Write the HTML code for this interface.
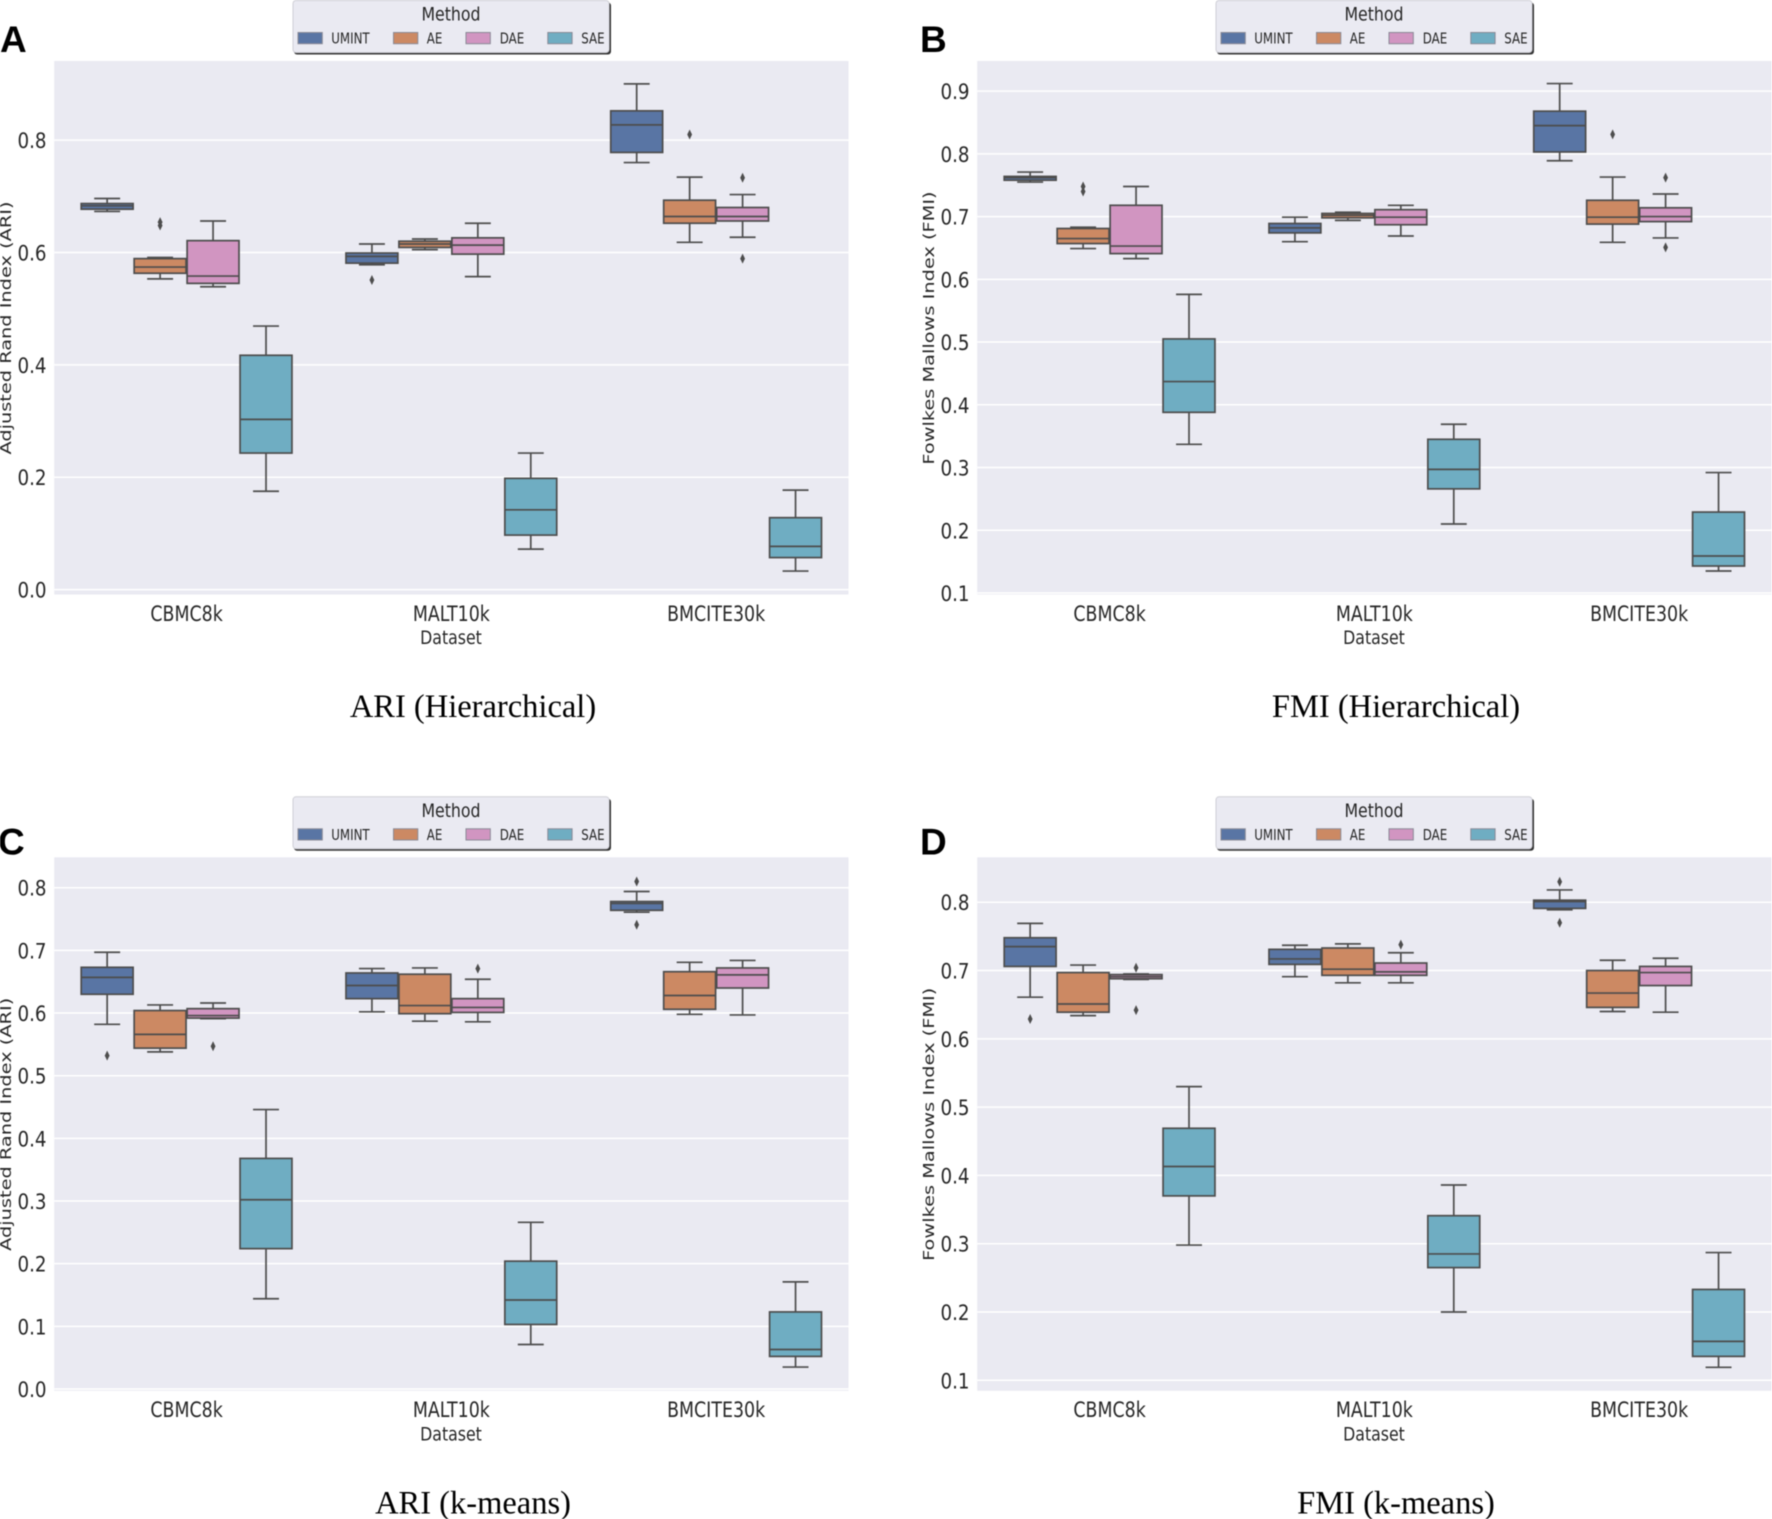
<!DOCTYPE html>
<html lang="en">
<head>
<meta charset="utf-8">
<title>Clustering boxplots</title>
<style>
html,body{margin:0;padding:0;background:#fff;width:1772px;height:1519px;overflow:hidden}
svg{display:block;filter:blur(.45px)}
.dj{font-family:"DejaVu Sans","Liberation Sans",sans-serif;fill:#262626}
.cap{font-family:"Liberation Serif",serif;font-size:32.5px;fill:#000;text-anchor:middle}
.let{font-family:"Liberation Sans",sans-serif;font-weight:bold;font-size:37px;fill:#000}
</style>
</head>
<body>
<svg id="fig" xmlns="http://www.w3.org/2000/svg" width="1772" height="1519" viewBox="0 0 1772 1519">
<defs>
<g id="legend-art">
<rect x="294" y="2.5" width="317" height="52" rx="3" fill="#333"/>
<rect x="293" y="0.5" width="316" height="52" rx="3" fill="#eaeaf2" stroke="#cfcfd6" stroke-width="1"/>
<rect x="298" y="32.5" width="24.3" height="11.2" fill="#5975a4" stroke="#8a8a96"/>
<rect x="393.5" y="32.5" width="24.3" height="11.2" fill="#cc8963" stroke="#8a8a96"/>
<rect x="466" y="32.5" width="24.3" height="11.2" fill="#d195c1" stroke="#8a8a96"/>
<rect x="547.8" y="32.5" width="24.3" height="11.2" fill="#6fadc2" stroke="#8a8a96"/>
</g>
</defs>

<g id="panel-a" transform="translate(0,0)">
<g class="plot"></g>
<text class="let" x="0" y="52">A</text>
<text class="dj" font-size="15" text-anchor="middle" transform="translate(11,328) rotate(-90) scale(1.29,1)">Adjusted Rand Index (ARI)</text>
<text class="dj" font-size="19" text-anchor="middle" transform="translate(451,644) scale(.83,1)">Dataset</text>
<text class="cap" x="473" y="717">ARI (Hierarchical)</text>
<g>
<use href="#legend-art"/>
<text class="dj" font-size="19" text-anchor="middle" transform="translate(451,20.7) scale(.83,1)">Method</text>
<text class="dj" font-size="15" transform="translate(331.2,43.7) scale(.79,1)">UMINT</text>
<text class="dj" font-size="15" transform="translate(426.8,43.7) scale(.79,1)">AE</text>
<text class="dj" font-size="15" transform="translate(499.7,43.7) scale(.79,1)">DAE</text>
<text class="dj" font-size="15" transform="translate(581.3,43.7) scale(.79,1)">SAE</text>
</g>
</g>

<g id="panel-b" transform="translate(923,0)">
<g class="plot"></g>
<text class="let" x="-3" y="52">B</text>
<text class="dj" font-size="15" text-anchor="middle" transform="translate(11,328) rotate(-90) scale(1.29,1)">Fowlkes Mallows Index (FMI)</text>
<text class="dj" font-size="19" text-anchor="middle" transform="translate(451,644) scale(.83,1)">Dataset</text>
<text class="cap" x="473" y="717">FMI (Hierarchical)</text>
<g>
<use href="#legend-art"/>
<text class="dj" font-size="19" text-anchor="middle" transform="translate(451,20.7) scale(.83,1)">Method</text>
<text class="dj" font-size="15" transform="translate(331.2,43.7) scale(.79,1)">UMINT</text>
<text class="dj" font-size="15" transform="translate(426.8,43.7) scale(.79,1)">AE</text>
<text class="dj" font-size="15" transform="translate(499.7,43.7) scale(.79,1)">DAE</text>
<text class="dj" font-size="15" transform="translate(581.3,43.7) scale(.79,1)">SAE</text>
</g>
</g>

<g id="panel-c" transform="translate(0,796.3)">
<g class="plot"></g>
<text class="let" x="-2" y="58">C</text>
<text class="dj" font-size="15" text-anchor="middle" transform="translate(11,328) rotate(-90) scale(1.29,1)">Adjusted Rand Index (ARI)</text>
<text class="dj" font-size="19" text-anchor="middle" transform="translate(451,644) scale(.83,1)">Dataset</text>
<text class="cap" x="473" y="717">ARI (k-means)</text>
<g>
<use href="#legend-art"/>
<text class="dj" font-size="19" text-anchor="middle" transform="translate(451,20.7) scale(.83,1)">Method</text>
<text class="dj" font-size="15" transform="translate(331.2,43.7) scale(.79,1)">UMINT</text>
<text class="dj" font-size="15" transform="translate(426.8,43.7) scale(.79,1)">AE</text>
<text class="dj" font-size="15" transform="translate(499.7,43.7) scale(.79,1)">DAE</text>
<text class="dj" font-size="15" transform="translate(581.3,43.7) scale(.79,1)">SAE</text>
</g>
</g>

<g id="panel-d" transform="translate(923,796.3)">
<g class="plot"></g>
<text class="let" x="-3" y="58">D</text>
<text class="dj" font-size="15" text-anchor="middle" transform="translate(11,328) rotate(-90) scale(1.29,1)">Fowlkes Mallows Index (FMI)</text>
<text class="dj" font-size="19" text-anchor="middle" transform="translate(451,644) scale(.83,1)">Dataset</text>
<text class="cap" x="473" y="717">FMI (k-means)</text>
<g>
<use href="#legend-art"/>
<text class="dj" font-size="19" text-anchor="middle" transform="translate(451,20.7) scale(.83,1)">Method</text>
<text class="dj" font-size="15" transform="translate(331.2,43.7) scale(.79,1)">UMINT</text>
<text class="dj" font-size="15" transform="translate(426.8,43.7) scale(.79,1)">AE</text>
<text class="dj" font-size="15" transform="translate(499.7,43.7) scale(.79,1)">DAE</text>
<text class="dj" font-size="15" transform="translate(581.3,43.7) scale(.79,1)">SAE</text>
</g>
</g>
</svg>

<script>
// Shared categories
const datasets = ["CBMC8k", "MALT10k", "BMCITE30k"];
const methods = ["UMINT", "AE", "DAE", "SAE"];
const methodColors = ["#5975a4", "#cc8963", "#d195c1", "#6fadc2"];

// Each row: one dataset, as [whisker low, Q1, median, Q3, whisker high]
// Panel A: ARI (Hierarchical)
const ariHierTicks = ["0.0", "0.2", "0.4", "0.6", "0.8"];
const ariHierLimits = [-0.0087, 0.9407];
const ariHierUmint = [[0.673, 0.677, 0.683, 0.687, 0.696], [0.578, 0.581, 0.593, 0.599, 0.615], [0.760, 0.778, 0.827, 0.852, 0.900]];
const ariHierAe = [[0.553, 0.563, 0.574, 0.589, 0.591], [0.605, 0.609, 0.615, 0.620, 0.624], [0.618, 0.652, 0.664, 0.693, 0.734]];
const ariHierDae = [[0.539, 0.545, 0.558, 0.621, 0.656], [0.557, 0.597, 0.613, 0.626, 0.652], [0.627, 0.656, 0.664, 0.680, 0.703]];
const ariHierSae = [[0.175, 0.243, 0.303, 0.417, 0.469], [0.072, 0.097, 0.142, 0.198, 0.243], [0.033, 0.057, 0.077, 0.128, 0.177]];
const ariHierOutliers = [[0, 1, 0.648], [0, 1, 0.654], [1, 0, 0.551], [2, 1, 0.810], [2, 2, 0.733], [2, 2, 0.589]];

// Panel B: FMI (Hierarchical)
const fmiHierTicks = ["0.1", "0.2", "0.3", "0.4", "0.5", "0.6", "0.7", "0.8", "0.9"];
const fmiHierLimits = [0.0976, 0.948];
const fmiHierUmint = [[0.755, 0.758, 0.762, 0.764, 0.771], [0.660, 0.674, 0.682, 0.689, 0.699], [0.789, 0.803, 0.845, 0.868, 0.912]];
const fmiHierAe = [[0.649, 0.657, 0.665, 0.681, 0.683], [0.694, 0.698, 0.702, 0.705, 0.707], [0.659, 0.688, 0.699, 0.726, 0.763]];
const fmiHierDae = [[0.633, 0.641, 0.653, 0.718, 0.748], [0.669, 0.687, 0.699, 0.711, 0.718], [0.666, 0.692, 0.700, 0.714, 0.736]];
const fmiHierSae = [[0.337, 0.388, 0.437, 0.505, 0.576], [0.210, 0.266, 0.297, 0.345, 0.369], [0.135, 0.143, 0.159, 0.229, 0.292]];
const fmiHierOutliers = [[0, 1, 0.748], [0, 1, 0.740], [2, 1, 0.831], [2, 2, 0.762], [2, 2, 0.651]];

// Panel C: ARI (k-means)
const ariKmTicks = ["0.0", "0.1", "0.2", "0.3", "0.4", "0.5", "0.6", "0.7", "0.8"];
const ariKmLimits = [-0.0029, 0.8486];
const ariKmUmint = [[0.582, 0.630, 0.657, 0.673, 0.697], [0.602, 0.623, 0.644, 0.664, 0.671], [0.761, 0.764, 0.775, 0.778, 0.794]];
const ariKmAe = [[0.538, 0.544, 0.566, 0.604, 0.613], [0.587, 0.599, 0.612, 0.662, 0.672], [0.598, 0.606, 0.628, 0.666, 0.681]];
const ariKmDae = [[0.591, 0.592, 0.596, 0.607, 0.616], [0.586, 0.601, 0.609, 0.623, 0.654], [0.597, 0.640, 0.661, 0.672, 0.684]];
const ariKmSae = [[0.144, 0.224, 0.302, 0.368, 0.446], [0.071, 0.103, 0.142, 0.204, 0.266], [0.035, 0.052, 0.063, 0.123, 0.171]];
const ariKmOutliers = [[0, 0, 0.532], [0, 2, 0.547], [1, 2, 0.671], [2, 0, 0.810], [2, 0, 0.741]];

// Panel D: FMI (k-means)
const fmiKmTicks = ["0.1", "0.2", "0.3", "0.4", "0.5", "0.6", "0.7", "0.8"];
const fmiKmLimits = [0.0846, 0.8658];
const fmiKmUmint = [[0.661, 0.706, 0.735, 0.748, 0.769], [0.691, 0.709, 0.717, 0.731, 0.737], [0.789, 0.791, 0.801, 0.803, 0.818]];
const fmiKmAe = [[0.634, 0.639, 0.651, 0.697, 0.708], [0.682, 0.693, 0.702, 0.733, 0.739], [0.640, 0.646, 0.667, 0.700, 0.715]];
const fmiKmDae = [[0.687, 0.688, 0.691, 0.694, 0.695], [0.682, 0.693, 0.698, 0.711, 0.726], [0.639, 0.678, 0.697, 0.706, 0.718]];
const fmiKmSae = [[0.298, 0.370, 0.413, 0.469, 0.530], [0.200, 0.265, 0.285, 0.341, 0.386], [0.119, 0.135, 0.157, 0.233, 0.287]];
const fmiKmOutliers = [[0, 0, 0.629], [0, 2, 0.704], [0, 2, 0.642], [1, 2, 0.738], [2, 0, 0.830], [2, 0, 0.770]];

const SVGNS = "http://www.w3.org/2000/svg";
const LINE = "#4d4d4d";

function make(tag, parent, attrs) {
  const el = document.createElementNS(SVGNS, tag);
  for (const k in attrs) el.setAttribute(k, attrs[k]);
  parent.appendChild(el);
  return el;
}

function drawPanel(panelId, ticks, limits, series, outliers) {
  const plot = document.querySelector("#" + panelId + " .plot");
  const left = 54.2, width = 794.3, top = 61, bottom = 594.5;

  const xScale = g => left + (g + 0.5) / datasets.length * width;
  const yScale = v => bottom - (v - limits[0]) / (limits[1] - limits[0]) * (bottom - top);
  const unit = width / datasets.length;
  const boxW = unit * 0.2;
  const offset = m => (m - (methods.length - 1) / 2) * boxW;

  const bg = make("rect", plot, {x: left, y: top, width: width, height: bottom - top, fill: "#eaeaf2"});
  
  

  ticks.forEach(t => {
    const v = parseFloat(t);
    const grid = make("line", plot, {x1: left, x2: left + width, y1: yScale(v), y2: yScale(v), stroke: "#fff", "stroke-width": 1.5});
    
    
    const label = make("text", plot, {"class": "dj", "font-size": 21.5, "text-anchor": "end", transform: "translate(46.5," + (yScale(v) + 8) + ") scale(.85,1)"});
    
    
    label.textContent = t;
  });

  datasets.forEach((name, g) => {
    const label = make("text", plot, {"class": "dj", "font-size": 21.5, "text-anchor": "middle", transform: "translate(" + xScale(g) + ",620.8) scale(.81,1)"});
    
    
    label.textContent = name;
  });

  series.forEach((rows, m) => {
    rows.forEach((row, g) => {
      const cx = xScale(g) + offset(m);
      const box = make("g", plot, {});
      
      
      const [lo, q1, med, q3, hi] = row;
      const stroke = {stroke: LINE, "stroke-width": 1.7};
      const half = boxW / 2 * 0.98;
      const capHalf = half / 2;
      make("line", box, Object.assign({x1: cx, x2: cx, y1: yScale(q3), y2: yScale(hi)}, stroke));
      make("line", box, Object.assign({x1: cx, x2: cx, y1: yScale(q1), y2: yScale(lo)}, stroke));
      make("line", box, Object.assign({x1: cx - capHalf, x2: cx + capHalf, y1: yScale(hi), y2: yScale(hi)}, stroke));
      make("line", box, Object.assign({x1: cx - capHalf, x2: cx + capHalf, y1: yScale(lo), y2: yScale(lo)}, stroke));
      make("rect", box, Object.assign({x: cx - half, y: yScale(q3), width: half * 2, height: yScale(q1) - yScale(q3), fill: methodColors[m]}, stroke));
      make("line", box, Object.assign({x1: cx - half, x2: cx + half, y1: yScale(med), y2: yScale(med)}, stroke));
    });
  });

  outliers.forEach(o => {
    const cx = xScale(o[0]) + offset(o[1]);
    const cy = yScale(o[2]);
    const pts = [[cx, cy - 5], [cx + 2.4, cy], [cx, cy + 5], [cx - 2.4, cy]].map(p => p.join(",")).join(" ");
    const mark = make("polygon", plot, {points: pts, fill: LINE});
    
    
  });
}

drawPanel("panel-a", ariHierTicks, ariHierLimits, [ariHierUmint, ariHierAe, ariHierDae, ariHierSae], ariHierOutliers);
drawPanel("panel-b", fmiHierTicks, fmiHierLimits, [fmiHierUmint, fmiHierAe, fmiHierDae, fmiHierSae], fmiHierOutliers);
drawPanel("panel-c", ariKmTicks, ariKmLimits, [ariKmUmint, ariKmAe, ariKmDae, ariKmSae], ariKmOutliers);
drawPanel("panel-d", fmiKmTicks, fmiKmLimits, [fmiKmUmint, fmiKmAe, fmiKmDae, fmiKmSae], fmiKmOutliers);
</script>
</body>
</html>
